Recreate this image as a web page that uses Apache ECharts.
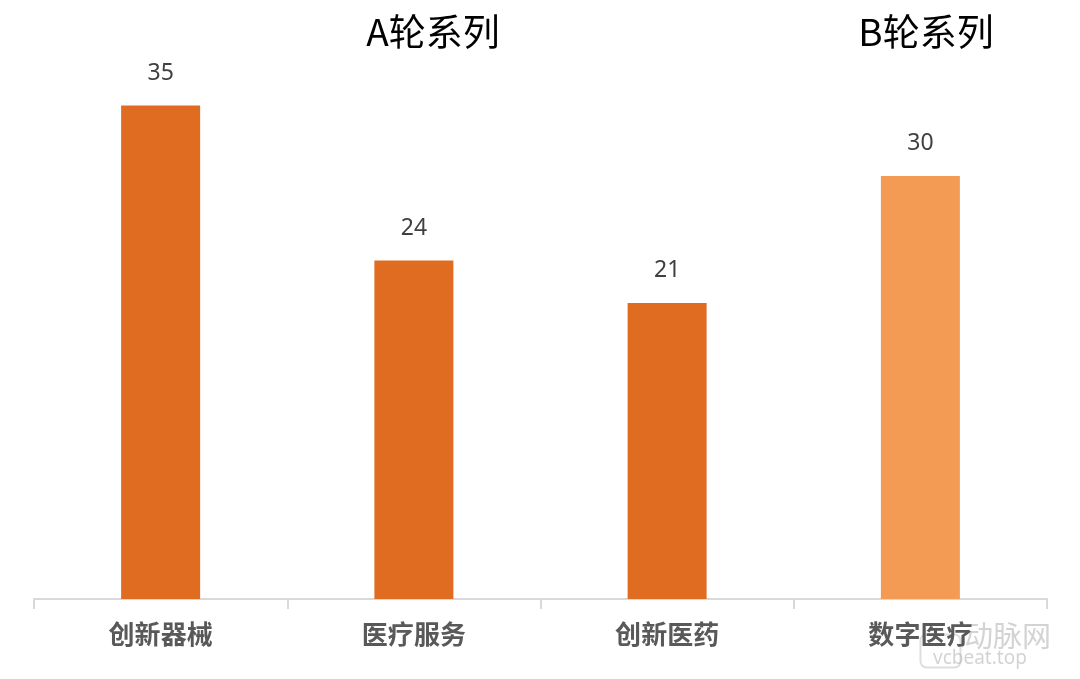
<!DOCTYPE html>
<html><head><meta charset="utf-8">
<script src="https://cdn.jsdelivr.net/npm/echarts@6/dist/echarts.min.js"></script>
<style>html,body{margin:0;padding:0;background:#fff}#c{width:1080px;height:679px}</style>
</head><body><div id="c"></div>
<script>
const categories = ['创新器械', '医疗服务', '创新医药', '数字医疗'];
const values = [35, 24, 21, 30];
const barColors = ['#E06C22', '#E06C22', '#E06C22', '#F39A55'];
const groupTitles = ['A轮系列', 'B轮系列'];

const chart = echarts.init(document.getElementById('c'));
chart.setOption({
  animation: false,
  backgroundColor: '#fff',
  title: [
    { text: groupTitles[0], left: 428, top: 8, textAlign: 'center',
      textStyle: { fontFamily: 'Noto Sans CJK SC', fontSize: 37, fontWeight: 'normal', color: '#000' } },
    { text: groupTitles[1], left: 921, top: 8, textAlign: 'center',
      textStyle: { fontFamily: 'Noto Sans CJK SC', fontSize: 37, fontWeight: 'normal', color: '#000' } }
  ],
  grid: { left: 34, right: 33, top: 35, bottom: 80 },
  xAxis: {
    type: 'category', data: categories,
    axisLine: { lineStyle: { color: '#d9d9d9', width: 2 } },
    axisTick: { show: true, length: 10, lineStyle: { color: '#d9d9d9', width: 2 } },
    axisLabel: { margin: 22, fontFamily: 'Noto Sans CJK SC', fontSize: 26, fontWeight: 'bold', color: '#595959' }
  },
  yAxis: { type: 'value', min: 0, max: 40, show: false, splitLine: { show: false } },
  series: [{
    type: 'bar', barWidth: 79,
    data: values.map((v, i) => ({ value: v, itemStyle: { color: barColors[i] } })),
    label: { show: true, position: 'top', distance: 21, fontFamily: 'Noto Sans', fontSize: 23, color: '#404040' }
  }],
  graphic: [
    { type: 'rect', left: 918, top: 632, shape: { width: 40, height: 33, r: 6 }, style: { fill: 'none', stroke: 'rgba(190,190,190,0.5)', lineWidth: 2 } },
    { type: 'text', left: 964, top: 621, style: { text: '动脉网', fontFamily: 'Noto Sans CJK SC', fontSize: 29, fill: 'rgba(175,175,175,0.55)' } },
    { type: 'text', left: 933, top: 649, style: { text: 'vcbeat.top', fontFamily: 'Noto Sans', fontSize: 19, fill: 'rgba(175,175,175,0.55)' } }
  ]
});
</script></body></html>
